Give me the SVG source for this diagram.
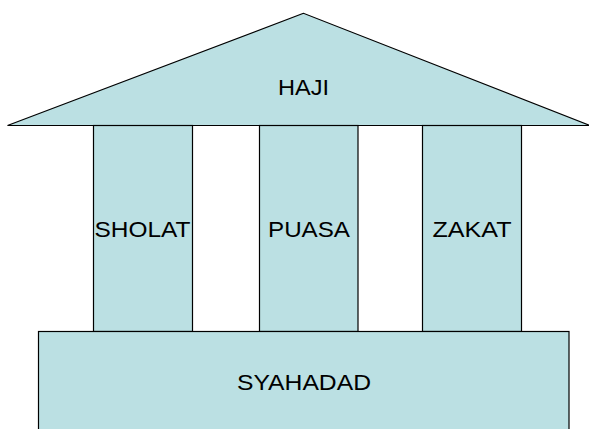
<svg xmlns="http://www.w3.org/2000/svg" width="589" height="429" viewBox="0 0 589 429">
<style>
.s{fill:#BBE0E3;stroke:#000;stroke-width:1.2}
.t{font-family:"Liberation Sans",Arial,sans-serif;font-size:21.5px;fill:#000;text-anchor:middle}
</style>
<rect width="589" height="429" fill="#fff"/>
<g id="haji">
<polygon class="s" points="303.5,13.3 7.5,125.5 590,125.5"/>
<text class="t" x="303.5" y="95" textLength="51" lengthAdjust="spacingAndGlyphs">HAJI</text>
</g>
<g id="sholat">
<rect class="s" x="93.5" y="125.5" width="99" height="206"/>
<text class="t" x="142.5" y="237.3" textLength="96" lengthAdjust="spacingAndGlyphs">SHOLAT</text>
</g>
<g id="puasa">
<rect class="s" x="259.5" y="125.5" width="98.5" height="206"/>
<text class="t" x="309" y="237.3" textLength="82" lengthAdjust="spacingAndGlyphs">PUASA</text>
</g>
<g id="zakat">
<rect class="s" x="422.5" y="125.5" width="99" height="206"/>
<text class="t" x="472" y="237.3" textLength="79" lengthAdjust="spacingAndGlyphs">ZAKAT</text>
</g>
<g id="syahadad">
<rect class="s" x="38.5" y="331.5" width="530.5" height="110"/>
<text class="t" x="304" y="390" textLength="134" lengthAdjust="spacingAndGlyphs">SYAHADAD</text>
</g>
<g id="connectors"/>
</svg>
